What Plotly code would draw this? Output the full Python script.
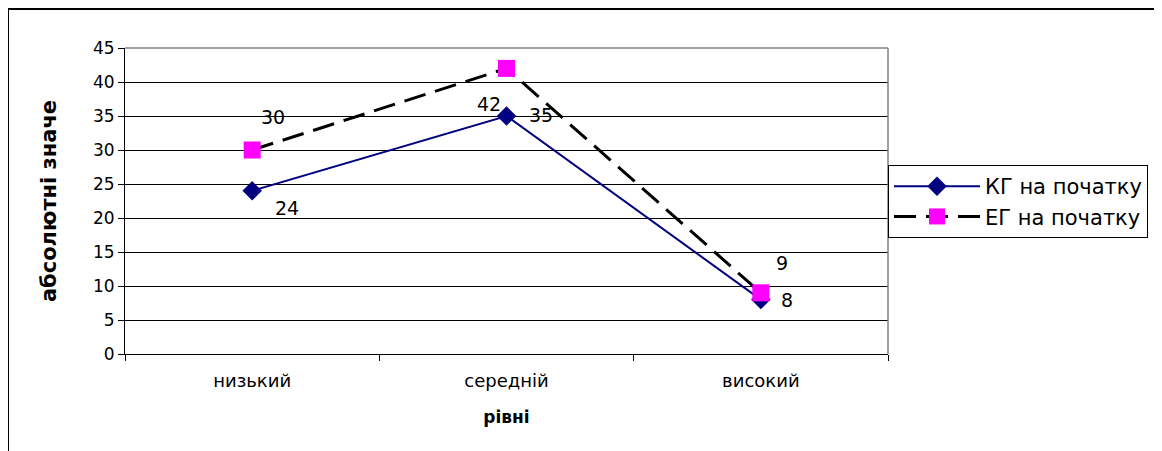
import plotly.graph_objects as go

categories = ["низький", "середній", "високий"]
kg_values = [24, 35, 8]
eg_values = [30, 42, 9]
y_ticks = [0, 5, 10, 15, 20, 25, 30, 35, 40, 45]

W, H = 1162, 451
OFF = 8  # page body margin
L, R, T, B = 125, 888, 48, 354  # plot area in page px


def px(x):
    return (x - L) / (R - L)


def py(y):
    return (B - y) / (B - T)


FONT = "DejaVu Sans, Liberation Sans, Arial, sans-serif"

fig = go.Figure()
fig.add_trace(go.Scatter(
    x=categories, y=kg_values, name="КГ на початку", mode="lines+markers",
    legendgroup="kg",
    line=dict(color="#000080", width=2),
    marker=dict(symbol="diamond", size=15, color="#000080"),
))
fig.add_trace(go.Scatter(
    x=categories, y=eg_values, name="ЕГ на початку", mode="lines+markers",
    legendgroup="eg",
    line=dict(color="black", width=3, dash="22px,10px"),
    marker=dict(symbol="square", size=17, color="#FF00FF"),
))

# data labels (offsets in px)
kg_off = [(35, -17), (34, 1), (26, 0)]
eg_off = [(21, 33), (-18, -36), (21, 30)]
for vals, offs in ((kg_values, kg_off), (eg_values, eg_off)):
    for c, v, (dx, dy) in zip(categories, vals, offs):
        fig.add_annotation(x=c, y=v, text=str(v), showarrow=False,
                           xshift=dx, yshift=dy,
                           font=dict(family=FONT, size=19, color="black"))

shapes = [
    # plot area border (gray top and right)
    dict(type="line", xref="paper", yref="paper", x0=0, x1=1, y0=1, y1=1,
         line=dict(color="#808080", width=1.5), layer="above"),
    dict(type="line", xref="paper", yref="paper", x0=1, x1=1, y0=0, y1=1,
         line=dict(color="#808080", width=1.5), layer="above"),
    # outer chart border (top and left visible)
    dict(type="line", xref="paper", yref="paper", x0=px(OFF), x1=px(W + 20),
         y0=py(9), y1=py(9), line=dict(color="black", width=2)),
    dict(type="line", xref="paper", yref="paper", x0=px(OFF), x1=px(OFF),
         y0=py(9), y1=py(H + 20), line=dict(color="black", width=2)),
]

fig.update_layout(
    width=W, height=H,
    margin=dict(l=L - OFF, r=W - (R - OFF), t=T - OFF, b=H - (B - OFF)),
    paper_bgcolor="white", plot_bgcolor="white",
    font=dict(family=FONT, size=17, color="black"),
    showlegend=True,
    legend=dict(
        x=1.0, y=py(165), xanchor="left", yanchor="top",
        bordercolor="black", borderwidth=1, bgcolor="white",
        font=dict(family=FONT, size=21, color="black"),
        itemwidth=86, traceorder="grouped", tracegroupgap=0,
    ),
    shapes=shapes,
    xaxis=dict(
        type="category", range=[-0.5, 2.5],
        showline=True, linecolor="black", linewidth=1,
        ticks="outside", tickson="boundaries", ticklen=6, tickcolor="black",
        showgrid=False, zeroline=False,
        tickfont=dict(family=FONT, size=18),
        ticklabelstandoff=10,
        title=dict(text="<b>рівні</b>", font=dict(family=FONT, size=17), standoff=21),
    ),
    yaxis=dict(
        range=[0, 45], tickvals=y_ticks, ticktext=[str(t) for t in y_ticks],
        showline=True, linecolor="black", linewidth=1,
        ticks="outside", ticklen=6, tickcolor="black",
        showgrid=True, gridcolor="black", gridwidth=1, zeroline=False,
        tickfont=dict(family=FONT, size=17),
        title=dict(text="<b>абсолютні значе</b>", font=dict(family=FONT, size=21), standoff=30),
    ),
)

fig.write_html("out.html")
